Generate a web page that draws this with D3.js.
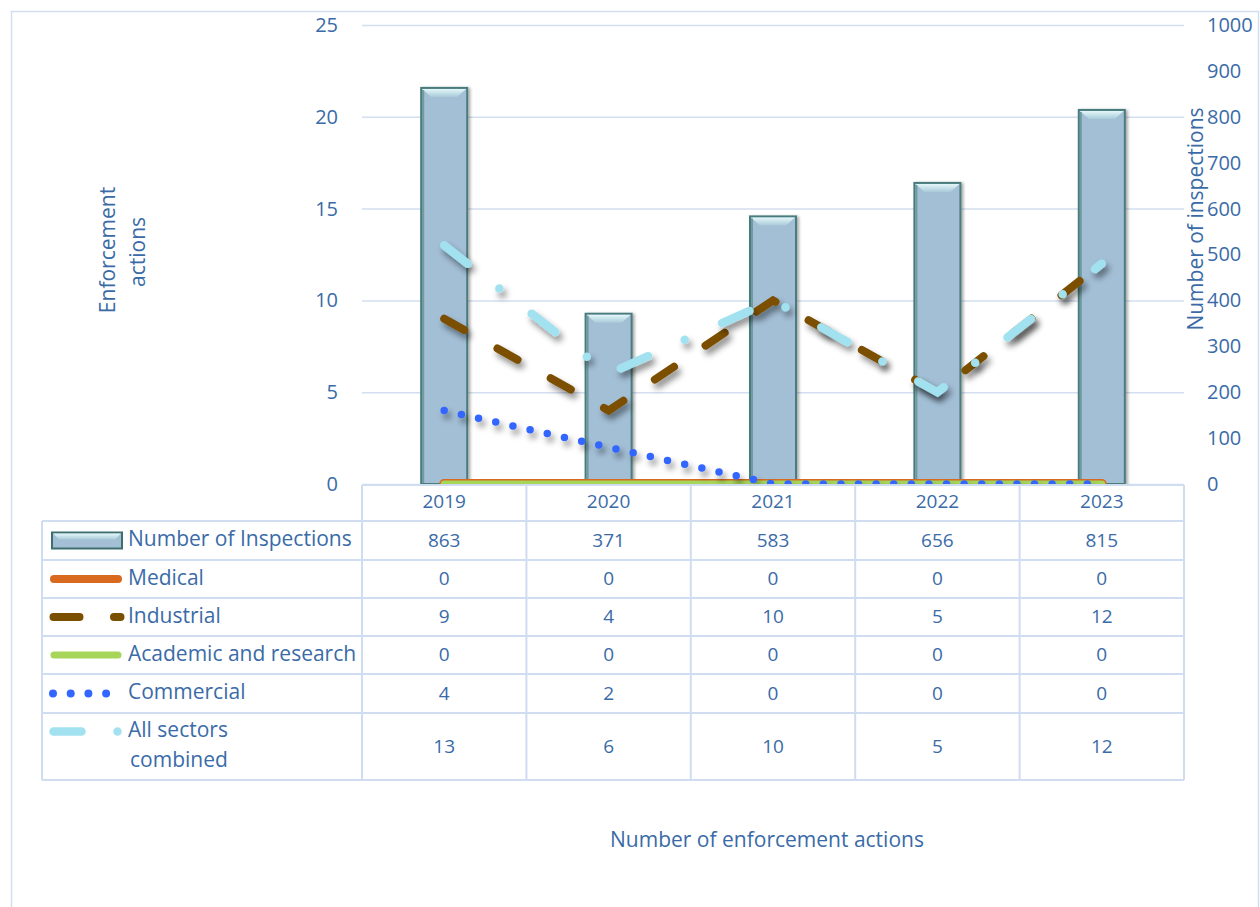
<!DOCTYPE html>
<html>
<head>
<meta charset="utf-8">
<script src="https://cdn.jsdelivr.net/npm/d3@7"></script>
<style>
  body { margin: 0; background: #fff; }
  svg text { font-family: "Open Sans", Lato, sans-serif; fill: #3a6ba7; }
</style>
</head>
<body>
<div id="chart"></div>
<script>
const years = ['2019', '2020', '2021', '2022', '2023'];
const inspections = [863, 371, 583, 656, 815];
const medical = [0, 0, 0, 0, 0];
const industrial = [9, 4, 10, 5, 12];
const academic = [0, 0, 0, 0, 0];
const commercial = [4, 2, 0, 0, 0];
const allSectors = [13, 6, 10, 5, 12];
const leftTicks = [0, 5, 10, 15, 20, 25];
const rightTicks = [0, 100, 200, 300, 400, 500, 600, 700, 800, 900, 1000];

const width = 1260, height = 907;
const plot = { left: 362, right: 1184, top: 25, bottom: 484 };
const textColor = '#3a6ba7';
const gridColor = '#d3def0';
const fsNum = '19px';   // table numbers
const fsTick = '20px';  // axis ticks
const fsText = '21px';  // labels and titles

const svg = d3.select('#chart').append('svg')
    .attr('width', width)
    .attr('height', height);

const defs = svg.append('defs');
const shadow = defs.append('filter').attr('id', 'shadow')
    .attr('x', '-10%').attr('y', '-20%').attr('width', '130%').attr('height', '160%');
shadow.append('feDropShadow')
    .attr('dx', 3).attr('dy', 5).attr('stdDeviation', 3)
    .attr('flood-color', '#000').attr('flood-opacity', 0.45);
const barShadow = defs.append('filter').attr('id', 'barShadow')
    .attr('x', '-20%').attr('y', '-5%').attr('width', '150%').attr('height', '110%');
barShadow.append('feDropShadow')
    .attr('dx', 2).attr('dy', 1).attr('stdDeviation', 1.5)
    .attr('flood-color', '#000').attr('flood-opacity', 0.35);
const bevel = defs.append('linearGradient').attr('id', 'bevel')
    .attr('x1', 0).attr('y1', 0).attr('x2', 0).attr('y2', 1);
bevel.append('stop').attr('offset', '0%').attr('stop-color', '#e4f7fa');
bevel.append('stop').attr('offset', '100%').attr('stop-color', '#a9cbd9');

// outer frame
svg.append('rect')
    .attr('x', 11.5).attr('y', 11.5)
    .attr('width', 1247).attr('height', 920)
    .attr('fill', 'none').attr('stroke', '#d2ddee').attr('stroke-width', 1.5);

const x = d3.scaleBand().domain(years).range([plot.left, plot.right]);
const yLeft = d3.scaleLinear().domain([0, 25]).range([plot.bottom, plot.top]);
const yRight = d3.scaleLinear().domain([0, 1000]).range([plot.bottom, plot.top]);
const cx = d => x(d) + x.bandwidth() / 2;

// gridlines + left axis
const leftAxis = svg.append('g')
    .attr('transform', `translate(${plot.left},0)`)
    .call(d3.axisLeft(yLeft).tickValues(leftTicks).tickSize(-(plot.right - plot.left)).tickPadding(24));
leftAxis.select('.domain').remove();
leftAxis.selectAll('.tick line').attr('stroke', gridColor).attr('stroke-width', 1.5);
leftAxis.selectAll('.tick text').style('font-size', fsTick).attr('fill', textColor);

const rightAxis = svg.append('g')
    .attr('transform', `translate(${plot.right},0)`)
    .call(d3.axisRight(yRight).tickValues(rightTicks).tickFormat(d3.format('d')).tickSize(0).tickPadding(23));
rightAxis.select('.domain').remove();
rightAxis.selectAll('.tick text').style('font-size', fsTick).attr('fill', textColor);

// bars
const barW = x.bandwidth() * 0.28;
function drawBar(g, bx, by, bw, bh) {
    g.append('rect')
        .attr('x', bx).attr('y', by).attr('width', bw).attr('height', bh)
        .attr('fill', '#a3bfd6').attr('stroke', '#4a7b7b').attr('stroke-width', 2)
        .attr('filter', 'url(#barShadow)');
    const b = Math.min(9, bh / 2);
    g.append('path')
        .attr('d', `M${bx + 1},${by + 1} L${bx + bw - 1},${by + 1} L${bx + bw - 1 - b},${by + b} L${bx + 1 + b},${by + b} Z`)
        .attr('fill', 'url(#bevel)');
    g.append('line')
        .attr('x1', bx + 2).attr('x2', bx + 2).attr('y1', by + 2).attr('y2', by + bh - 1)
        .attr('stroke', '#6f9a9e').attr('stroke-width', 2);
}
const barsG = svg.append('g');
years.forEach((yr, i) => {
    const top = yRight(inspections[i]);
    drawBar(barsG, cx(yr) - barW / 2, top, barW, plot.bottom - top);
});

// lines
function line(vals) {
    return d3.line().x((d, i) => cx(years[i])).y(d => yLeft(d))(vals);
}
const linesG = svg.append('g');
linesG.append('path').attr('d', line(medical))
    .attr('fill', 'none').attr('stroke', '#d9691f').attr('stroke-width', 10)
    .attr('stroke-linecap', 'round');
linesG.append('path').attr('d', line(academic))
    .attr('fill', 'none').attr('stroke', '#a6d55a').attr('stroke-width', 7)
    .attr('stroke-linecap', 'round');
linesG.append('path').attr('d', line(industrial))
    .attr('fill', 'none').attr('stroke', '#7b4f00').attr('stroke-width', 8)
    .attr('stroke-linecap', 'round').attr('stroke-dasharray', '23 38')
    .attr('filter', 'url(#shadow)');
linesG.append('path').attr('d', line(allSectors))
    .attr('fill', 'none').attr('stroke', '#a2e1ef').attr('stroke-width', 8.5)
    .attr('stroke-linecap', 'round').attr('stroke-dasharray', '30 40 0 41')
    .attr('filter', 'url(#shadow)');
linesG.append('path').attr('d', line(commercial))
    .attr('fill', 'none').attr('stroke', '#3366ff').attr('stroke-width', 7.5)
    .attr('stroke-linecap', 'round').attr('stroke-dasharray', '0 17.6')
    .attr('filter', 'url(#shadow)');

// data table
const tableLeft = 42;
const rowLines = [485, 521, 560, 598, 636, 674, 713, 780];
const tbl = svg.append('g');
tbl.append('rect').attr('x', plot.left).attr('y', 486).attr('width', plot.right - plot.left).attr('height', 35)
    .attr('fill', '#fff');
const gridStyle = sel => sel.attr('stroke', '#d0dcef').attr('stroke-width', 2);

rowLines.forEach((ry, i) => {
    tbl.append('line').attr('x1', i === 0 ? plot.left : tableLeft).attr('x2', plot.right)
        .attr('y1', ry).attr('y2', ry).call(gridStyle);
});
tbl.append('line').attr('x1', tableLeft).attr('x2', tableLeft).attr('y1', 521).attr('y2', 780).call(gridStyle);
[...years.map(d => x(d)), plot.right].forEach(vx => {
    tbl.append('line').attr('x1', vx).attr('x2', vx).attr('y1', 485).attr('y2', 780).call(gridStyle);
});

tbl.selectAll('.yr').data(years).enter().append('text')
    .attr('x', d => cx(d)).attr('y', 503)
    .attr('text-anchor', 'middle').attr('dominant-baseline', 'middle')
    .style('font-size', fsNum).text(d => d);

const rows = [
    { label: ['Number of Inspections'], vals: inspections, key: 'bar' },
    { label: ['Medical'], vals: medical, key: 'medical' },
    { label: ['Industrial'], vals: industrial, key: 'industrial' },
    { label: ['Academic and research'], vals: academic, key: 'academic' },
    { label: ['Commercial'], vals: commercial, key: 'commercial' },
    { label: ['All sectors', 'combined'], vals: allSectors, key: 'all' }
];
rows.forEach((r, i) => {
    const y0 = rowLines[i + 1], y1 = rowLines[i + 2];
    const my = (y0 + y1) / 2;
    r.vals.forEach((v, j) => {
        tbl.append('text').attr('x', cx(years[j])).attr('y', my + 1)
            .attr('text-anchor', 'middle').attr('dominant-baseline', 'middle')
            .style('font-size', fsNum).text(v);
    });
    if (r.label.length === 1) {
        tbl.append('text').attr('x', 128).attr('y', my)
            .attr('dominant-baseline', 'middle').style('font-size', fsText).text(r.label[0]);
    } else {
        tbl.append('text').attr('x', 128).attr('y', my - 15)
            .attr('dominant-baseline', 'middle').style('font-size', fsText).text(r.label[0]);
        tbl.append('text').attr('x', 130).attr('y', my + 15)
            .attr('dominant-baseline', 'middle').style('font-size', fsText).text(r.label[1]);
    }
    const ky = r.label.length === 1 ? my : my - 15;
    const k = tbl.append('g');
    if (r.key === 'bar') {
        k.append('rect').attr('x', 52).attr('y', ky - 8).attr('width', 70).attr('height', 16)
            .attr('fill', '#a3bfd6').attr('stroke', '#3f6e6e').attr('stroke-width', 2);
        k.append('path')
            .attr('d', `M53,${ky - 7} L121,${ky - 7} L115,${ky - 1} L59,${ky - 1} Z`)
            .attr('fill', 'url(#bevel)');
    } else if (r.key === 'medical') {
        k.append('line').attr('x1', 54).attr('x2', 118).attr('y1', ky).attr('y2', ky)
            .attr('stroke', '#d9691f').attr('stroke-width', 8).attr('stroke-linecap', 'round');
    } else if (r.key === 'academic') {
        k.append('line').attr('x1', 54).attr('x2', 118).attr('y1', ky).attr('y2', ky)
            .attr('stroke', '#a6d55a').attr('stroke-width', 7).attr('stroke-linecap', 'round');
    } else if (r.key === 'industrial') {
        k.append('line').attr('x1', 53.5).attr('x2', 120.5).attr('y1', ky).attr('y2', ky)
            .attr('stroke', '#7b4f00').attr('stroke-width', 8).attr('stroke-linecap', 'round')
            .attr('stroke-dasharray', '26 34.5');
    } else if (r.key === 'commercial') {
        k.append('line').attr('x1', 53).attr('x2', 110).attr('y1', ky).attr('y2', ky)
            .attr('stroke', '#3366ff').attr('stroke-width', 8).attr('stroke-linecap', 'round')
            .attr('stroke-dasharray', '0 17.7');
    } else if (r.key === 'all') {
        k.append('line').attr('x1', 53.5).attr('x2', 120).attr('y1', ky).attr('y2', ky)
            .attr('stroke', '#a2e1ef').attr('stroke-width', 8.5).attr('stroke-linecap', 'round')
            .attr('stroke-dasharray', '28 36 0 100');
    }
});

// axis titles
svg.append('text')
    .attr('transform', 'translate(115,250) rotate(-90)')
    .attr('text-anchor', 'middle').style('font-size', fsText).text('Enforcement');
svg.append('text')
    .attr('transform', 'translate(145,252) rotate(-90)')
    .attr('text-anchor', 'middle').style('font-size', fsText).text('actions');
svg.append('text')
    .attr('transform', 'translate(1203,219) rotate(-90)')
    .attr('text-anchor', 'middle').style('font-size', fsText).text('Number of inspections');
svg.append('text')
    .attr('x', 767).attr('y', 847)
    .attr('text-anchor', 'middle').style('font-size', fsText).text('Number of enforcement actions');
</script>
</body>
</html>
